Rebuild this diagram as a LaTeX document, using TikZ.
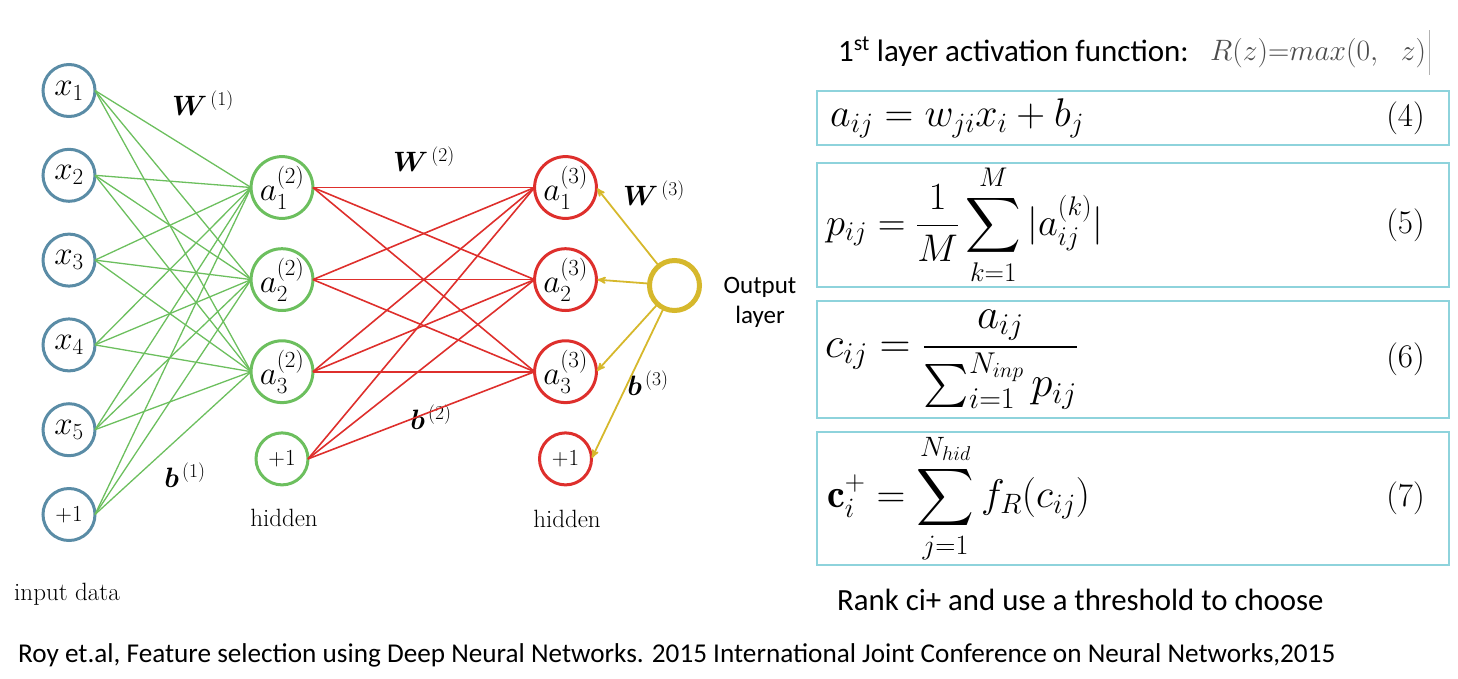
\RequirePackage{fix-cm}
\documentclass[tikz,border=0pt]{standalone}
\usepackage{amsmath,bm}
\DeclareFontShape{OMX}{cmex}{m}{n}{<-7.5>cmex7<7.5-8.5>cmex8<8.5-9.5>cmex9<9.5->cmex10}{}
\usepackage{fontspec}
\newfontfamily\slidefont{Carlito}
\usetikzlibrary{arrows, positioning}
\definecolor{inblue}{HTML}{5A8CA6}
\definecolor{hidgreen}{HTML}{6CBF5E}
\definecolor{hidred}{HTML}{DE2F2C}
\definecolor{outyellow}{HTML}{D6B82C}
\definecolor{boxcyan}{HTML}{8ED3DC}
\newcommand*{\nodeSize}{52pt}
\newcommand*{\eqWidth}{632pt}
\tikzset{
    neuron/.style    = {circle, line width=3pt, minimum size=\nodeSize, inner sep=0pt, outer sep=0pt, font=\fontsize{33}{40}\selectfont},
    inlayer/.style   = {neuron, draw=inblue},
    hidlayer/.style  = {neuron, draw=hidgreen},
    outlayer/.style  = {neuron, draw=hidred},
    final/.style     = {neuron, draw=outyellow, line width=5pt, minimum size=50pt},
    bias/.style      = {font=\fontsize{23}{28}\selectfont},
    wiregreen/.style = {draw=hidgreen, line width=1.3pt},
    wirered/.style   = {draw=hidred, line width=1.6pt},
    feed/.style      = {->, >=stealth', draw=outyellow, line width=1.8pt, shorten >=1pt},
    weight/.style    = {font=\fontsize{28}{34}\selectfont},
    serif/.style     = {inner sep=0pt, font=\fontsize{25}{30}\selectfont},
    slidetext/.style = {inner sep=0pt, anchor=west, font=\slidefont\fontsize{31}{37}\selectfont},
    eqbox/.style     = {draw=boxcyan, line width=2.5pt, rectangle, minimum width=\eqWidth, inner sep=0pt, outer sep=0pt},
    eqtext/.style    = {inner sep=0pt, font=\fontsize{40}{48}\selectfont},
    eqnum/.style     = {inner sep=0pt, font=\fontsize{33}{40}\selectfont}
}
\begin{document}
\begin{tikzpicture}[x=1pt, y=-1pt, node distance=32.8pt]
	\useasboundingbox (0,0) rectangle (1458,678);

	% input layer
	\node (x1) [inlayer] at (69,90.5) {$x_1$};
	\node (x2) [inlayer, below=of x1] {$x_2$};
	\node (x3) [inlayer, below=of x2] {$x_3$};
	\node (x4) [inlayer, below=of x3] {$x_4$};
	\node (x5) [inlayer, below=of x4] {$x_5$};
	\node (x6) [inlayer, bias, below=of x5] {+1};

	% first hidden layer
	\node (h1) [hidlayer] at (282,187.5) {$a_1^{(2)}$};
	\node (h2) [hidlayer, below=30.3pt of h1] {$a_2^{(2)}$};
	\node (h3) [hidlayer, below=30.3pt of h2] {$a_3^{(2)}$};
	\node (h4) [hidlayer, bias, below=30.3pt of h3] {+1};

	% second hidden layer
	\node (o1) [outlayer] at (565.5,187.5) {$a_1^{(3)}$};
	\node (o2) [outlayer, below=30.3pt of o1] {$a_2^{(3)}$};
	\node (o3) [outlayer, below=30.3pt of o2] {$a_3^{(3)}$};
	\node (o4) [outlayer, bias, below=30.3pt of o3] {+1};

	% output
	\node (out) [final] at (674.5,285.5) {};
	\node (outtext) [inner sep=0pt, align=center, font=\slidefont\fontsize{25}{30}\selectfont] at (760,302) {Output\\layer};

	% labels
	\node (w1) [weight] at (203,103) {$\bm{W}^{\,(1)}$};
	\node (w2) [weight] at (424,159) {$\bm{W}^{\,(2)}$};
	\node (w3) [weight] at (654,193) {$\bm{W}^{\,(3)}$};
	\node (b1) [weight] at (185,475) {$\bm{b}^{\,(1)}$};
	\node (b2) [weight] at (431,417) {$\bm{b}^{\,(2)}$};
	\node (b3) [weight] at (648,383) {$\bm{b}^{\,(3)}$};
	\node (hidA) [serif] at (284,518) {hidden};
	\node (hidB) [serif] at (567,519) {hidden};
	\node (indata) [serif] at (67,594) {input data};

	\draw [wiregreen] (x1.east) -- (h1.west);
	\draw [wiregreen] (x1.east) -- (h2.west);
	\draw [wiregreen] (x1.east) -- (h3.west);
	\draw [wiregreen] (x2.east) -- (h1.west);
	\draw [wiregreen] (x2.east) -- (h2.west);
	\draw [wiregreen] (x2.east) -- (h3.west);
	\draw [wiregreen] (x3.east) -- (h1.west);
	\draw [wiregreen] (x3.east) -- (h2.west);
	\draw [wiregreen] (x3.east) -- (h3.west);
	\draw [wiregreen] (x4.east) -- (h1.west);
	\draw [wiregreen] (x4.east) -- (h2.west);
	\draw [wiregreen] (x4.east) -- (h3.west);
	\draw [wiregreen] (x5.east) -- (h1.west);
	\draw [wiregreen] (x5.east) -- (h2.west);
	\draw [wiregreen] (x5.east) -- (h3.west);
	\draw [wiregreen] (x6.east) -- (h1.west);
	\draw [wiregreen] (x6.east) -- (h2.west);
	\draw [wiregreen] (x6.east) -- (h3.west);

	\draw [wirered] (h1.east) -- (o1.west);
	\draw [wirered] (h1.east) -- (o2.west);
	\draw [wirered] (h1.east) -- (o3.west);
	\draw [wirered] (h2.east) -- (o1.west);
	\draw [wirered] (h2.east) -- (o2.west);
	\draw [wirered] (h2.east) -- (o3.west);
	\draw [wirered] (h3.east) -- (o1.west);
	\draw [wirered] (h3.east) -- (o2.west);
	\draw [wirered] (h3.east) -- (o3.west);
	\draw [wirered] (h4.east) -- (o1.west);
	\draw [wirered] (h4.east) -- (o2.west);
	\draw [wirered] (h4.east) -- (o3.west);

	\draw [feed] (out) -- (o1.east);
	\draw [feed] (out) -- (o2.east);
	\draw [feed] (out) -- (o3.east);
	\draw [feed] (out) -- (o4.east);

	% equations
	\node (act)  [slidetext] at (838,52) {1\textsuperscript{st} layer activation function:};
	\node (relu) [inner sep=0pt, anchor=west, text=black!70, font=\fontsize{29.5}{35}\selectfont] at (1210,53) {$R(z){=}max(0,\ \ z)$};
	\draw [gray!60, line width=1pt] (1429,30) -- (1429,75);

	\node (box1) [eqbox, minimum height=54pt] at (1133,118) {};
	\node (box2) [eqbox, minimum height=124pt, below=18pt of box1] {};
	\node (box3) [eqbox, minimum height=117pt, below=14pt of box2] {};
	\node (box4) [eqbox, minimum height=133pt, below=14pt of box3] {};

	\node (eq4) [eqtext, right=13pt of box1.west] {$a_{ij} = w_{ji}x_i + b_j$};
	\node (eq5) [eqtext, font=\fontsize{38.5}{46}\selectfont, right=9pt of box2.west] {$\displaystyle p_{ij} = \frac{1}{M}\sum_{k=1}^{M} |a_{ij}^{(k)}|$};
	\node (eq6) [eqtext, font=\fontsize{43}{52}\selectfont, right=8pt of box3.west] {$\displaystyle c_{ij} = \frac{a_{ij}}{\sum_{i=1}^{N_{inp}} p_{ij}}$};
	\node (eq7) [eqtext, font=\fontsize{40}{48}\selectfont, right=10pt of box4.west] {$\displaystyle \mathbf{c}_i^{+} = \sum_{j=1}^{N_{hid}} f_R(c_{ij})$};
	\node (n4) [eqnum, left=24pt of box1.east] {(4)};
	\node (n5) [eqnum, left=24pt of box2.east] {(5)};
	\node (n6) [eqnum, left=24pt of box3.east] {(6)};
	\node (n7) [eqnum, left=24pt of box4.east] {(7)};

	\node (rank) [slidetext, font=\slidefont\fontsize{30.8}{37}\selectfont] at (837,600) {Rank ci+ and use a threshold to choose};
	\node (cite) [slidetext, font=\slidefont\fontsize{27.2}{33}\selectfont] at (18,655) {Roy et.al, Feature selection using Deep Neural Networks. 2015 International Joint Conference on Neural Networks,2015};
\end{tikzpicture}
\end{document}
